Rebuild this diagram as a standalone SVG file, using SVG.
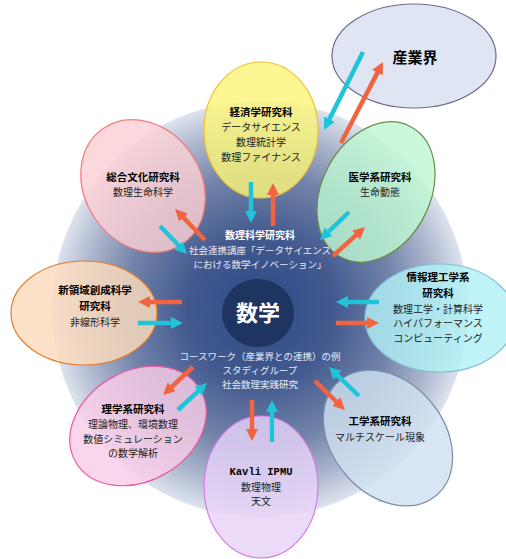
<svg xmlns="http://www.w3.org/2000/svg" width="506" height="559" viewBox="0 0 506 559">
<defs>
<radialGradient id="bg" cx="0.5" cy="0.5" r="0.5">
<stop offset="0" stop-color="#2c4a85"/>
<stop offset="0.35" stop-color="#42598f"/>
<stop offset="0.65" stop-color="#7384aa"/>
<stop offset="0.85" stop-color="#acb6cd"/>
<stop offset="1" stop-color="#dde3ee"/>
</radialGradient>
<marker id="ho" markerUnits="userSpaceOnUse" markerWidth="12" markerHeight="12" refX="4" refY="6" orient="auto"><path d="M0,0 L12,6 L0,12 z" fill="#f26440"/></marker>
<marker id="hc" markerUnits="userSpaceOnUse" markerWidth="12" markerHeight="12" refX="4" refY="6" orient="auto"><path d="M0,0 L12,6 L0,12 z" fill="#1fc4d8"/></marker>
<style>
text{font-family:"Noto Sans CJK JP","Noto Sans",sans-serif;text-anchor:middle}
.t{font-size:10.5px;font-weight:bold;fill:#000}
.b{font-size:10px;fill:#222}
.w{font-size:9.5px;fill:#e8ecf4}
.wt{font-size:10px;font-weight:bold;fill:#fff}
.nd{fill-opacity:0.82;stroke-width:1.2}
.o{stroke:#f26440;stroke-width:4.5;fill:none;marker-end:url(#ho)}
.c{stroke:#1fc4d8;stroke-width:4.5;fill:none;marker-end:url(#hc)}
</style>
</defs>
<rect width="506" height="559" fill="#fff"/>
<circle cx="260" cy="309" r="208" fill="url(#bg)"/>

<g id="keizai"><ellipse class="nd" cx="261" cy="130" rx="57" ry="68" fill="#fbf57a" stroke="#f2c230"/>
<text class="t" x="261" y="116">経済学研究科</text>
<text class="b" x="261" y="131">データサイエンス</text>
<text class="b" x="261" y="146">数理統計学</text>
<text class="b" x="261" y="161">数理ファイナンス</text></g>

<g id="sogo"><ellipse class="nd" cx="143" cy="186" rx="58" ry="70" transform="rotate(-35 143 186)" fill="#fbd0d4" stroke="#f07c7c"/>
<text class="t" x="143" y="181">総合文化研究科</text>
<text class="b" x="143" y="196">数理生命科学</text></g>

<g id="sangyo"><ellipse cx="414" cy="56" rx="82" ry="52" fill="#dfe5f3" stroke="#6d6b8d" stroke-width="1.2"/>
<text x="415" y="63" style="font-size:15px;font-weight:bold;fill:#000">産業界</text></g>

<g id="igaku"><ellipse class="nd" cx="376" cy="192" rx="54" ry="74" transform="rotate(28 376 192)" fill="#bdf7d2" stroke="#6b8b4b"/>
<text class="t" x="380" y="181">医学系研究科</text>
<text class="b" x="380" y="196">生命動態</text></g>

<g id="shinryoiki"><ellipse class="nd" cx="84" cy="313" rx="73" ry="52" fill="#fddcbd" stroke="#e87a2c"/>
<text class="t" x="95" y="294">新領域創成科学</text>
<text class="t" x="95" y="310">研究科</text>
<text class="b" x="95" y="326">非線形科学</text></g>

<g id="joho"><ellipse class="nd" cx="440" cy="318" rx="75" ry="54" fill="#b2f0f5" stroke="#7ec0d6"/>
<text class="t" x="438" y="281">情報理工学系</text>
<text class="t" x="438" y="297">研究科</text>
<text class="b" x="438" y="312.5">数理工学・計算科学</text>
<text class="b" x="438" y="327">ハイパフォーマンス</text>
<text class="b" x="438" y="341.5">コンピューティング</text></g>

<g id="rigaku"><ellipse class="nd" cx="138" cy="426" rx="72" ry="55" transform="rotate(-30 138 426)" fill="#f9cde8" stroke="#ea5aa0"/>
<text class="t" x="133" y="413">理学系研究科</text>
<text class="b" x="133" y="428">理論物理、環境数理</text>
<text class="b" x="133" y="442.5">数値シミュレーション</text>
<text class="b" x="133" y="457">の数学解析</text></g>

<g id="kogaku"><ellipse class="nd" cx="388" cy="438" rx="56" ry="75" transform="rotate(-40 388 438)" fill="#cfe0f0" stroke="#7890ac"/>
<text class="t" x="380" y="425">工学系研究科</text>
<text class="b" x="380" y="440.5">マルチスケール現象</text></g>

<g id="kavli"><ellipse class="nd" cx="261" cy="487" rx="57" ry="71" fill="#e6d3f8" stroke="#d67ce8"/>
<text x="261" y="475" style="font-family:'Liberation Mono',monospace;font-size:10.5px;font-weight:bold;fill:#000">Kavli IPMU</text>
<text class="b" x="261" y="490.5">数理物理</text>
<text class="b" x="261" y="505">天文</text></g>

<g id="center"><ellipse cx="258" cy="313" rx="36" ry="34" fill="#1e3461"/>
<text x="258" y="321" style="font-size:22px;font-weight:bold;fill:#fff">数学</text>
<text class="wt" x="260" y="239">数理科学研究科</text>
<text class="w" x="260" y="253.5">社会連携講座「データサイエンス</text>
<text class="w" x="260" y="267.5">における数学イノベーション」</text>
<text class="w" x="260" y="360">コースワーク（産業界との連携）の例</text>
<text class="w" x="260" y="374">スタディグループ</text>
<text class="w" x="260" y="388">社会数理実践研究</text></g>

<g id="connectors">
<line class="c" x1="251" y1="182" x2="251" y2="215"/>
<line class="o" x1="273" y1="226" x2="273" y2="191"/>
<line class="c" x1="363" y1="52" x2="327.6" y2="122.8"/>
<line class="o" x1="341" y1="143" x2="379.3" y2="69.1"/>
<line class="c" x1="160" y1="226" x2="181.4" y2="248.2"/>
<line class="o" x1="205" y1="240" x2="180.6" y2="214.8"/>
<line class="c" x1="349" y1="212" x2="325.8" y2="234.4"/>
<line class="o" x1="333" y1="256" x2="359.1" y2="232.4"/>
<line class="o" x1="182" y1="302" x2="146" y2="302"/>
<line class="c" x1="138" y1="323" x2="175" y2="323"/>
<line class="c" x1="379" y1="302" x2="344" y2="302"/>
<line class="o" x1="336" y1="323" x2="371" y2="323"/>
<line class="o" x1="193" y1="367" x2="168.8" y2="389.5"/>
<line class="c" x1="178" y1="410" x2="201.1" y2="388.5"/>
<line class="c" x1="359" y1="396" x2="334.8" y2="372.6"/>
<line class="o" x1="315" y1="381" x2="339.2" y2="404.4"/>
<line class="o" x1="252" y1="400" x2="252" y2="433"/>
<line class="c" x1="272" y1="442" x2="272" y2="408"/>
</g>
</svg>
